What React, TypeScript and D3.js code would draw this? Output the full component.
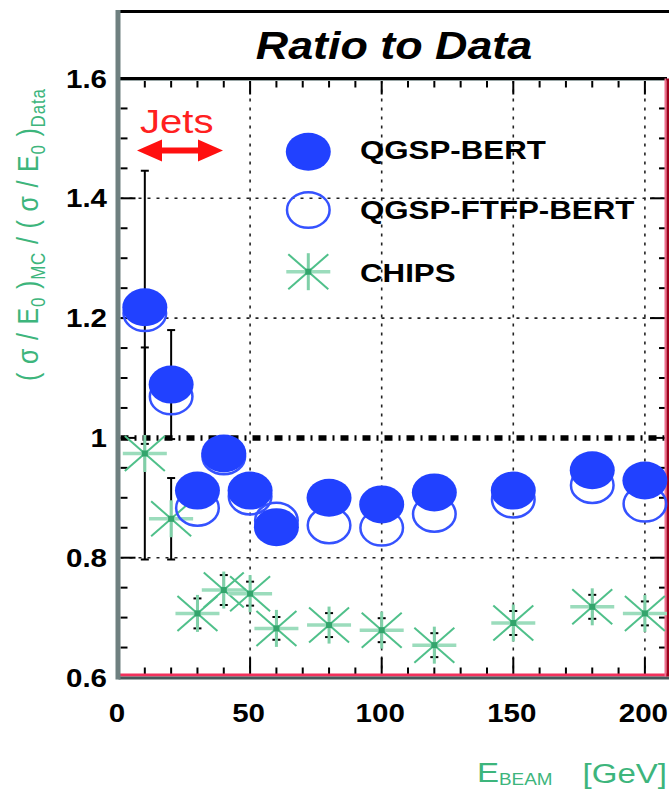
import React from 'react';
import * as d3 from 'd3';

const energies = [10, 20, 30, 40, 50, 60, 80, 100, 120, 150, 180, 200];
const qgspBert = [1.218, 1.089, 0.912, 0.974, 0.912, 0.851, 0.9, 0.889, 0.909, 0.912, 0.946, 0.929];
const qgspBertErr = [0.228, 0.091, 0.01, 0.01, 0.01, 0.01, 0.01, 0.01, 0.01, 0.01, 0.01, 0.01];
const qgspFtfpBert = [1.208, 1.069, 0.883, 0.969, 0.902, 0.862, 0.854, 0.85, 0.873, 0.897, 0.921, 0.89];
const chips = [0.974, 0.865, 0.707, 0.746, 0.74, 0.682, 0.6875, 0.679, 0.654, 0.691, 0.718, 0.707];
const chipsErr = [0.177, 0.068, 0.025, 0.025, 0.02, 0.019, 0.02, 0.02, 0.02, 0.02, 0.02, 0.02];

const xTickValues = [0, 50, 100, 150, 200];
const xTickLabels = ['0', '50', '100', '150', '200'];
const yTickValues = [0.6, 0.8, 1.0, 1.2, 1.4, 1.6];
const yTickLabels = ['0.6', '0.8', '1', '1.2', '1.4', '1.6'];
const gridX = [50, 100, 150, 200];
const gridY = [0.8, 1.2, 1.4];
const legendLabels = ['QGSP-BERT', 'QGSP-FTFP-BERT', 'CHIPS'];
const titleText = 'Ratio to Data';
const jetsText = 'Jets';

const FONT = '"Liberation Sans", Arial, Helvetica, sans-serif';
const SX = 1.18;
const BLUE = '#2141ff';
const GREEN = '#3db57c';

const W = 669;
const H = 790;
const L = 118.5;
const R = 667;
const T = 78.5;
const B = 677.5;

const x = d3.scaleLinear().domain([0, 208.4]).range([L, R]);
const y = d3.scaleLinear().domain([0.6, 1.6]).range([B, T]);

const RX = 22.5;
const RY = 19;

function Star({ cx, cy }: { cx: number; cy: number }) {
  return (
    <g>
      <line x1={cx - 22} x2={cx + 22} y1={cy} y2={cy} stroke="#9bdcbc" strokeWidth={3.5} />
      <line x1={cx} x2={cx} y1={cy - 18.5} y2={cy + 18.5} stroke="#7fd0a8" strokeWidth={3} />
      <line x1={cx - 20} x2={cx + 20} y1={cy - 17.5} y2={cy + 17.5} stroke="#4fc08a" strokeWidth={2} />
      <line x1={cx - 20} x2={cx + 20} y1={cy + 17.5} y2={cy - 17.5} stroke="#4fc08a" strokeWidth={2} />
      <rect x={cx - 3} y={cy - 3} width={6} height={6} fill="#33a56c" />
    </g>
  );
}

function SText({ x0, y0, anchor, size, weight, style, fill, children }: any) {
  return (
    <text
      transform={`translate(${x0},${y0}) scale(${SX},1)`}
      textAnchor={anchor || 'start'}
      fontSize={size}
      fontWeight={weight || 'normal'}
      fontStyle={style || 'normal'}
      fill={fill || '#000'}
      fontFamily={FONT}
    >
      {children}
    </text>
  );
}

export default function App() {
  const xMinor = d3.range(10, 201, 10);
  const yMinor = d3.range(0.65, 1.56, 0.05);

  return (
    <svg width={W} height={H} style={{ position: 'absolute', left: 0, top: 0, background: '#fff' }}>
      <rect x={0} y={0} width={W} height={H} fill="#fff" />

      {/* title box */}
      <line x1={L} x2={W} y1={11.5} y2={11.5} stroke="#000" strokeWidth={3} />
      <SText x0={394} y0={59} anchor="middle" size={38} weight="bold" style="italic">{titleText}</SText>

      {/* grid */}
      {gridX.map((v) => (
        <line key={'gx' + v} x1={x(v)} x2={x(v)} y1={T + 2} y2={B - 3} stroke="#222" strokeWidth={1.6} strokeDasharray="3,6" />
      ))}
      {gridY.map((v) => (
        <line key={'gy' + v} x1={L + 2} x2={R - 2} y1={y(v)} y2={y(v)} stroke="#222" strokeWidth={1.6} strokeDasharray="3,6" />
      ))}
      <line x1={L + 2} x2={R - 2} y1={y(1.0)} y2={y(1.0)} stroke="#000" strokeWidth={5.5} strokeDasharray="8,6,2,6" />

      {/* ticks bottom/top */}
      {xMinor.map((v) => {
        const major = v % 50 === 0;
        return (
          <g key={'xt' + v}>
            <line x1={x(v)} x2={x(v)} y1={B - 3} y2={B - 3 - (major ? 17 : 7)} stroke="#000" strokeWidth={2} />
            <line x1={x(v)} x2={x(v)} y1={T + 1} y2={T + 1 + (major ? 15 : 8)} stroke="#000" strokeWidth={2} />
          </g>
        );
      })}
      {yMinor.map((v) => {
        const major = Math.abs(v * 10 - Math.round(v * 10)) < 0.01 && Math.round(v * 10) % 2 === 0;
        return (
          <g key={'yt' + v.toFixed(2)}>
            <line x1={L + 2} x2={L + 2 + (major ? 15 : 7)} y1={y(v)} y2={y(v)} stroke="#000" strokeWidth={2} />
            <line x1={R - 2} x2={R - 2 - (major ? 15 : 6)} y1={y(v)} y2={y(v)} stroke="#000" strokeWidth={2} />
          </g>
        );
      })}

      {/* frame */}
      <line x1={L} x2={R} y1={T} y2={T} stroke="#000" strokeWidth={3} />
      <line x1={L} x2={R} y1={T + 2} y2={T + 2} stroke="#9aa6a6" strokeWidth={1} />
      <line x1={L} x2={R} y1={B - 2.5} y2={B - 2.5} stroke="#f2305c" strokeWidth={3} />
      <line x1={L} x2={R + 2} y1={B + 0.5} y2={B + 0.5} stroke="#46585a" strokeWidth={3} />
      <line x1={R - 1.5} x2={R - 1.5} y1={T} y2={B - 1} stroke="#f07090" strokeWidth={2} />
      <line x1={R + 1} x2={R + 1} y1={T} y2={B - 1} stroke="#a0001c" strokeWidth={3} />
      <line x1={L - 0.5} x2={L - 0.5} y1={10} y2={B + 2} stroke="#6f8080" strokeWidth={5} />

      {/* error bars */}
      {energies.map((e, i) => (
        <g key={'eb' + e} stroke="#000" strokeWidth={2}>
          <line x1={x(e)} x2={x(e)} y1={y(qgspBert[i] + qgspBertErr[i])} y2={y(qgspBert[i] - qgspBertErr[i])} />
          <line x1={x(e) - 4} x2={x(e) + 4} y1={y(qgspBert[i] + qgspBertErr[i])} y2={y(qgspBert[i] + qgspBertErr[i])} />
          <line x1={x(e) - 4} x2={x(e) + 4} y1={y(qgspBert[i] - qgspBertErr[i])} y2={y(qgspBert[i] - qgspBertErr[i])} />
          <line x1={x(e)} x2={x(e)} y1={y(chips[i] + chipsErr[i])} y2={y(chips[i] - chipsErr[i])} />
          <line x1={x(e) - 4} x2={x(e) + 4} y1={y(chips[i] + chipsErr[i])} y2={y(chips[i] + chipsErr[i])} />
          <line x1={x(e) - 4} x2={x(e) + 4} y1={y(chips[i] - chipsErr[i])} y2={y(chips[i] - chipsErr[i])} />
        </g>
      ))}

      {/* CHIPS */}
      {energies.map((e, i) => (
        <Star key={'st' + e} cx={x(e)} cy={y(chips[i])} />
      ))}

      {/* open markers */}
      {energies.map((e, i) => (
        <ellipse key={'op' + e} cx={x(e)} cy={y(qgspFtfpBert[i])} rx={RX - 1.2} ry={RY - 1.2} fill="none" stroke="#3552ff" strokeWidth={2.5} />
      ))}
      {/* filled markers */}
      {energies.map((e, i) => (
        <ellipse key={'fi' + e} cx={x(e)} cy={y(qgspBert[i])} rx={RX} ry={RY} fill={BLUE} />
      ))}

      {/* y tick labels */}
      {yTickValues.map((v, i) => (
        <SText key={'yl' + v} x0={107} y0={y(v) + 9} anchor="end" size={25} weight="bold">{yTickLabels[i]}</SText>
      ))}
      {/* x tick labels */}
      {xTickValues.map((v, i) => (
        <SText key={'xl' + v} x0={x(v) - 1.5} y0={722} anchor="middle" size={25} weight="bold">{xTickLabels[i]}</SText>
      ))}

      {/* Jets */}
      <SText x0={140} y0={133} size={34} fill="#ff2020">{jetsText}</SText>
      <path d="M137,150.5 L162,139.5 L162,147.5 L198,147.5 L198,139.5 L223,150.5 L198,161.5 L198,153.5 L162,153.5 L162,161.5 Z" fill="#ff1010" />

      {/* legend */}
      <ellipse cx={308.3} cy={151.7} rx={RX} ry={RY} fill={BLUE} />
      <ellipse cx={308.3} cy={210} rx={RX - 1.2} ry={RY - 1.2} fill="none" stroke="#3552ff" strokeWidth={2.5} />
      <Star cx={308.3} cy={271.7} />
      {legendLabels.map((lab, i) => (
        <SText key={lab} x0={360} y0={[158.5, 218.5, 281.5][i]} size={26.5} weight="bold">{lab}</SText>
      ))}

      {/* x axis title */}
      <SText x0={477} y0={782} size={28} fill={GREEN}>E</SText>
      <SText x0={499} y0={785} size={16} fill={GREEN}>BEAM</SText>
      <SText x0={667} y0={783} anchor="end" size={28} fill={GREEN}>[GeV]</SText>

      {/* y axis title */}
      <text
        transform={`translate(38,381) scale(${SX},1) rotate(-90)`}
        fontSize={25}
        fill={GREEN}
        fontFamily={FONT}
        textLength={292}
        lengthAdjust="spacing"
      >
        ( σ / E
        <tspan fontSize={17} dy={6}>0</tspan>
        <tspan dy={-6}> )</tspan>
        <tspan fontSize={17} dy={6}>MC</tspan>
        <tspan dy={-6}> / ( σ / E</tspan>
        <tspan fontSize={17} dy={6}>0</tspan>
        <tspan dy={-6}> )</tspan>
        <tspan fontSize={17} dy={6}>Data</tspan>
      </text>
    </svg>
  );
}
